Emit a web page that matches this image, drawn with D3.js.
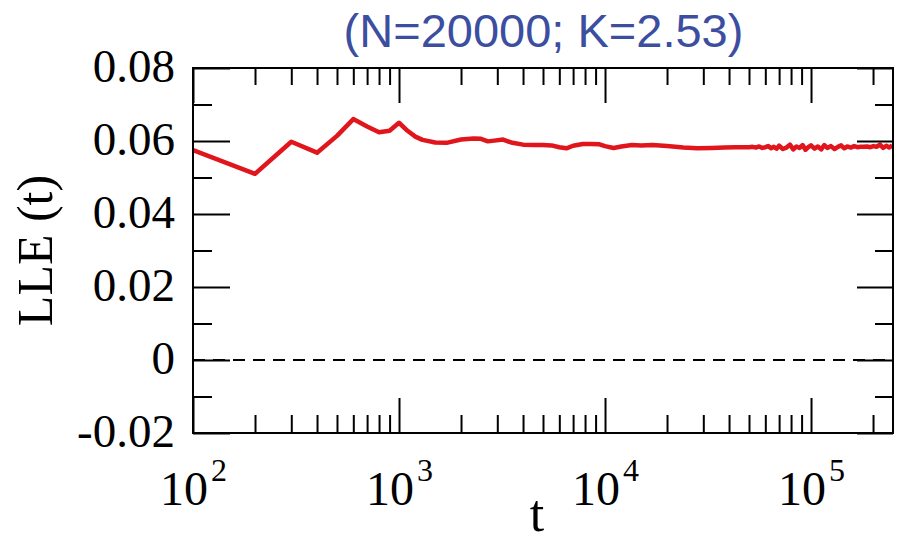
<!DOCTYPE html>
<html>
<head>
<meta charset="utf-8">
<script src="https://cdn.jsdelivr.net/npm/d3@7/dist/d3.min.js"></script>
<style>
  html, body { margin: 0; padding: 0; background: #fff; }
  svg { display: block; }
</style>
</head>
<body>
<svg id="chart" width="921" height="542"></svg>
<script>
// Largest Lyapunov exponent estimate as a function of time t
const titleText = "(N=20000; K=2.53)";
const yLabel = "LLE (t)";
const xLabel = "t";

const tValues = [
  100, 200, 300, 400, 500, 600, 700, 800, 900, 1000,
  1100, 1200, 1300, 1500, 1700, 2000, 2300, 2500, 2700, 2900,
  3200, 3500, 4000, 4500, 5000, 5500, 6000, 6500, 7000, 7800,
  8500, 9400, 10000, 11000, 12000, 13500, 15000, 17000, 20000, 24000,
  28000, 33000, 38000, 43000, 48000,
  50000, 52000, 54000, 56000, 58000, 60000, 62000, 64000, 66000, 68000,
  70000, 73000, 76000, 79000, 82000, 85000, 88000, 91000, 94000, 97000,
  100000, 104000, 108000, 112000, 116000, 120000, 125000, 130000, 135000, 140000,
  145000, 150000, 156000, 162000, 168000, 174000, 180000, 187000, 194000, 201000,
  208000, 216000, 224000, 232000, 240000, 248000
];
const lleValues = [
  0.0575, 0.0510, 0.0598, 0.0568, 0.0614, 0.0660, 0.0640, 0.0624, 0.0628, 0.0650,
  0.0628, 0.0612, 0.0603, 0.0596, 0.0595, 0.0604, 0.0607, 0.0606, 0.0599, 0.0601,
  0.0604, 0.0596, 0.0590, 0.0589, 0.0589, 0.0588, 0.0583, 0.0580, 0.0587, 0.0592,
  0.0592, 0.0591, 0.0586, 0.0581, 0.0585, 0.0589, 0.0588, 0.0589, 0.0586, 0.0582,
  0.0580, 0.0581, 0.0582, 0.0583, 0.0583,
  0.0583, 0.0584, 0.0582, 0.0585, 0.0581, 0.0583, 0.0586, 0.0580, 0.0584, 0.0579,
  0.0587, 0.0578, 0.0582, 0.0590, 0.0577, 0.0585, 0.0581, 0.0589, 0.0576, 0.0583,
  0.0588, 0.0579, 0.0585, 0.0577, 0.0589, 0.0581, 0.0586, 0.0578, 0.0584, 0.0588,
  0.0580, 0.0585, 0.0582, 0.0586, 0.0583, 0.0584, 0.0584, 0.0585, 0.0583, 0.0586,
  0.0584, 0.0590, 0.0581, 0.0587, 0.0582, 0.0588
];

const xMajorTicks = [100, 1000, 10000, 100000];
const xTickExponents = ["2", "3", "4", "5"];
const xMinorTicks = [200, 300, 400, 500, 600, 700, 800, 900,
  2000, 3000, 4000, 5000, 6000, 7000, 8000, 9000,
  20000, 30000, 40000, 50000, 60000, 70000, 80000, 90000,
  200000];
const yMajorTicks = [-0.02, 0, 0.02, 0.04, 0.06, 0.08];
const yTickLabels = ["-0.02", "0", "0.02", "0.04", "0.06", "0.08"];
const yMinorTicks = [-0.01, 0.01, 0.03, 0.05, 0.07];

const plotLeft = 193, plotRight = 893, plotTop = 68, plotBottom = 433;
const serif = "'Liberation Serif', 'Times New Roman', serif";

const x = d3.scaleLog().domain([100, 250000]).range([plotLeft, plotRight]);
const y = d3.scaleLinear().domain([-0.02, 0.08]).range([plotBottom, plotTop]);

const svg = d3.select("#chart");

svg.append("defs").append("clipPath").attr("id", "plot-clip")
  .append("rect").attr("x", plotLeft).attr("y", plotTop)
  .attr("width", plotRight - plotLeft).attr("height", plotBottom - plotTop);

// zero reference line
svg.append("line")
  .attr("x1", plotLeft).attr("x2", plotRight)
  .attr("y1", y(0)).attr("y2", y(0))
  .attr("stroke", "#000").attr("stroke-width", 2)
  .attr("stroke-dasharray", "12,8");

// data curve
const series = tValues.map((t, i) => ({ t, v: lleValues[i] }));
svg.append("path")
  .datum(series)
  .attr("clip-path", "url(#plot-clip)")
  .attr("fill", "none")
  .attr("stroke", "#e0161c")
  .attr("stroke-width", 4.5)
  .attr("stroke-linejoin", "round")
  .attr("d", d3.line().x(d => x(d.t)).y(d => y(d.v)));

function styleAxis(g) {
  g.select(".domain").remove();
  g.selectAll(".tick line").attr("stroke", "#000").attr("stroke-width", 2);
}

// y axes (left with labels, right mirror), ticks point inward
svg.append("g").attr("transform", `translate(${plotLeft},0)`)
  .call(d3.axisLeft(y).tickValues(yMajorTicks).tickSizeInner(-37).tickSizeOuter(0)
    .tickPadding(18).tickFormat((d, i) => yTickLabels[i]))
  .call(styleAxis)
  .call(g => g.selectAll("text").attr("font-family", serif).attr("font-size", 47)
    .attr("fill", "#000").attr("dy", "0.28em"));
svg.append("g").attr("transform", `translate(${plotLeft},0)`)
  .call(d3.axisLeft(y).tickValues(yMinorTicks).tickSizeInner(-19).tickSizeOuter(0).tickFormat(""))
  .call(styleAxis);
svg.append("g").attr("transform", `translate(${plotRight},0)`)
  .call(d3.axisRight(y).tickValues(yMajorTicks).tickSizeInner(-36).tickSizeOuter(0).tickFormat(""))
  .call(styleAxis);
svg.append("g").attr("transform", `translate(${plotRight},0)`)
  .call(d3.axisRight(y).tickValues(yMinorTicks).tickSizeInner(-18).tickSizeOuter(0).tickFormat(""))
  .call(styleAxis);

// x axes (bottom with labels, top mirror)
const bottomAxis = svg.append("g").attr("transform", `translate(0,${plotBottom})`)
  .call(d3.axisBottom(x).tickValues(xMajorTicks).tickSizeInner(-35).tickSizeOuter(0)
    .tickPadding(0).tickFormat(() => ""))
  .call(styleAxis);
bottomAxis.selectAll(".tick text")
  .attr("y", 72).attr("dy", null)
  .attr("font-family", serif).attr("font-size", 48).attr("fill", "#000")
  .each(function (d, i) {
    const txt = d3.select(this);
    txt.append("tspan").text("10");
    txt.append("tspan").attr("font-size", 32).attr("dx", 3).attr("dy", -24).text(xTickExponents[i]);
  });
svg.append("g").attr("transform", `translate(0,${plotBottom})`)
  .call(d3.axisBottom(x).tickValues(xMinorTicks).tickSizeInner(-18).tickSizeOuter(0).tickFormat(""))
  .call(styleAxis);
svg.append("g").attr("transform", `translate(0,${plotTop})`)
  .call(d3.axisTop(x).tickValues(xMajorTicks).tickSizeInner(-35).tickSizeOuter(0).tickFormat(""))
  .call(styleAxis);
svg.append("g").attr("transform", `translate(0,${plotTop})`)
  .call(d3.axisTop(x).tickValues(xMinorTicks).tickSizeInner(-17).tickSizeOuter(0).tickFormat(""))
  .call(styleAxis);

// plot frame
svg.append("rect")
  .attr("x", plotLeft).attr("y", plotTop)
  .attr("width", plotRight - plotLeft).attr("height", plotBottom - plotTop)
  .attr("fill", "none").attr("stroke", "#000").attr("stroke-width", 2);

// axis titles
svg.append("text")
  .attr("transform", `translate(52,${(plotTop + plotBottom) / 2}) rotate(-90)`)
  .attr("text-anchor", "middle")
  .attr("font-family", serif).attr("font-size", 50).attr("fill", "#000")
  .text(yLabel);
svg.append("text")
  .attr("x", 537).attr("y", 531)
  .attr("text-anchor", "middle")
  .attr("font-family", serif).attr("font-size", 52).attr("fill", "#000")
  .text(xLabel);

// heading
svg.append("text")
  .attr("x", 543.5).attr("y", 47)
  .attr("text-anchor", "middle")
  .attr("font-family", "'Liberation Sans', Arial, sans-serif")
  .attr("font-size", 47).attr("fill", "#3b4ea0")
  .text(titleText);
</script>
</body>
</html>
